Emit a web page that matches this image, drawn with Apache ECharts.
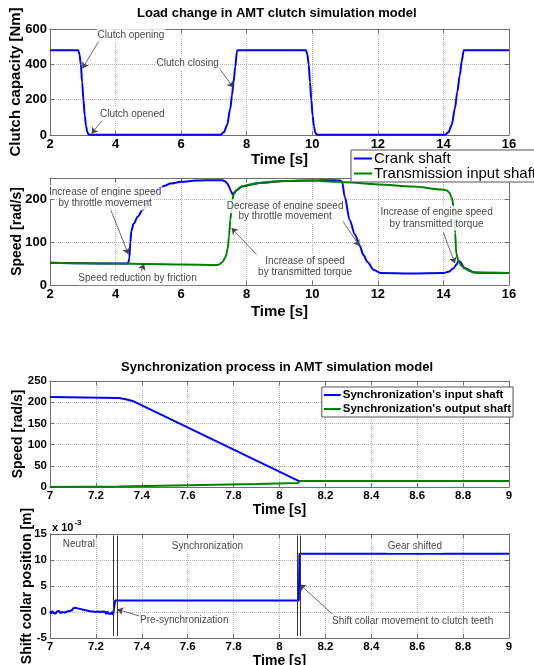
<!DOCTYPE html>
<html>
<head>
<meta charset="utf-8">
<script src="https://cdn.jsdelivr.net/npm/echarts@6/dist/echarts.min.js"></script>
<style>
  html, body { margin: 0; padding: 0; background: #fff; }
  #chart { width: 534px; height: 665px; }
</style>
</head>
<body>
<div id="chart"></div>
<script>
// top panel: clutch capacity [Nm]
var clutchTime = [2, 2.86, 2.9, 2.94, 2.98, 3.02, 3.06, 3.1, 3.14, 3.18, 3.22,
                  7.2, 7.3, 7.4, 7.5, 7.55, 7.6, 7.65, 7.7, 7.72,
                  9.81, 9.85, 9.89, 9.93, 9.97, 10.01, 10.05, 10.09, 10.13, 10.17,
                  14.05, 14.15, 14.25, 14.35, 14.42, 14.5, 14.56, 14.62, 16];
var clutchCap  = [480, 480, 455, 400, 300, 200, 110, 50, 15, 4, 2,
                  2, 15, 55, 150, 225, 300, 385, 470, 480,
                  480, 455, 400, 300, 200, 110, 50, 15, 4, 2,
                  2, 15, 55, 150, 240, 340, 420, 480, 480];

// second panel: speeds [rad/s]
var crankTime  = [2, 3, 4, 4.38, 4.42, 4.45, 4.48, 4.55, 4.68, 4.82,
                  5.0, 5.15, 5.32, 5.5, 5.67, 6.0, 6.46, 7.0, 7.26, 7.35,
                  7.41, 7.46, 7.5, 7.57, 7.7, 7.85, 8.45, 9.14, 10, 10.5,
                  10.85, 10.91, 10.99, 11.14, 11.3, 11.44, 11.56, 11.68, 11.88, 12.08,
                  13, 14.0, 14.16, 14.31, 14.4, 14.46, 14.5, 14.65, 14.95, 16];
var crankSpeed = [52, 51, 50, 50, 62, 100, 126, 143, 160, 175,
                  196, 212, 226, 232, 237, 241, 244, 245, 245, 242,
                  237, 230, 222, 212, 222, 230, 239, 243, 244, 245,
                  244, 241, 206, 152, 118, 93, 70, 54, 35, 28,
                  27, 28, 31, 39, 48, 56, 55, 39, 29, 28];
var transTime  = [2, 3, 4, 5, 6, 7.1, 7.16, 7.26, 7.36, 7.42,
                  7.46, 7.5, 7.56, 7.6, 7.7, 7.85, 8.1, 8.45, 9.14, 10,
                  10.79, 11, 12, 13.07, 13.96, 14.1, 14.18, 14.26, 14.31, 14.36,
                  14.39, 14.46, 14.55, 14.65, 14.8, 14.95, 15.2, 16];
var transSpeed = [52, 51, 50, 49, 48, 47, 48, 54, 66, 85,
                  113, 152, 198, 212, 222, 230, 235, 239, 243, 244,
                  241, 240, 235, 230, 223, 221, 216, 202, 183, 121,
                  74, 55, 45, 39, 33, 29, 28, 28];

// third panel: synchronizer speeds [rad/s]
var syncInTime   = [7, 7.3, 7.33, 7.36, 8.085, 9];
var syncInSpeed  = [212, 210, 207, 203, 14, 14];
var syncOutTime  = [7, 7.3, 7.6, 7.9, 8.08, 8.09, 9];
var syncOutSpeed = [0, 1, 4, 7, 9.5, 14, 14];

// fourth panel: shift collar position [x 10^-3 m]
var collarTime = [7.000, 7.005, 7.010, 7.015, 7.020, 7.025, 7.030, 7.035, 7.040, 7.045,
                  7.050, 7.055, 7.060, 7.065, 7.070, 7.075, 7.080, 7.085, 7.090, 7.095,
                  7.100, 7.105, 7.110, 7.115, 7.120, 7.125, 7.130, 7.135, 7.140, 7.145,
                  7.150, 7.155, 7.160, 7.165, 7.170, 7.175, 7.180, 7.185, 7.190, 7.195,
                  7.200, 7.205, 7.210, 7.215, 7.220, 7.225, 7.230, 7.235, 7.240, 7.245,
                  7.250, 7.255, 7.260, 7.265, 7.270, 7.275, 7.280,
                  7.284, 8.084, 8.087, 9];
var collarPos  = [0.1, -0.3, 0.2, -0.2, 0.0, -0.3, 0.1, -0.1, 0.2, -0.2,
                  0.1, 0.0, 0.3, -0.1, 0.2, 0.1, 0.4, 0.2, 0.5, 0.3,
                  0.7, 0.5, 0.8, 0.5, 0.7, 0.4, 0.6, 0.3, 0.5, 0.2,
                  0.4, 0.1, 0.3, 0.0, 0.2, -0.1, 0.1, -0.2, 0.1, -0.1,
                  0.0, -0.3, 0.1, -0.2, 0.0, -0.3, 0.1, -0.2, 0.0, -0.4,
                  0.1, -0.3, -0.1, -0.4, 0.0, -0.5, -0.2,
                  2.2, 2.2, 11.2, 11.2];
var syncMarks = [7.274, 7.291, 8.078, 8.089];

// annotations [x, y, text] and arrows [x1, y1, x2, y2] in data units
var clutchNotes  = [[4.47, 566, 'Clutch opening'], [4.51, 117, 'Clutch opened'], [6.2, 405, 'Clutch closing']];
var clutchArrows = [[3.52, 541, 2.99, 377], [3.58, 80, 3.27, 8], [7.13, 386, 7.59, 269]];
var speedNotes = [
  [3.68, 217, 'Increase of engine speed'], [3.68, 191, 'by throttle movement'],
  [4.67, 16, 'Speed reduction by friction'],
  [9.17, 184, 'Decrease of engine speed'], [9.17, 161, 'by throttle movement'],
  [9.78, 55, 'Increase of speed'], [9.78, 30, 'by transmitted torque'],
  [13.79, 169, 'Increase of engine speed'], [13.79, 143, 'by transmitted torque']
];
var speedArrows = [[3.83, 180, 4.39, 72], [4.75, 27, 4.87, 49], [10.94, 148, 11.44, 91],
                   [8.3, 71, 7.54, 133], [14.0, 122, 14.35, 51]];
var collarNotes = [
  [7.126, 13.0, 'Neutral'], [7.686, 12.7, 'Synchronization'], [8.59, 12.7, 'Gear shifted'],
  [7.585, -1.6, 'Pre-synchronization'], [8.58, -1.7, 'Shift collar movement to clutch teeth']
];
var collarArrows = [[7.407, -1.0, 7.293, 0.5], [8.25, -1.2, 8.089, 5.3]];

var FONT = "'Liberation Sans', Arial, Helvetica, sans-serif";
var BLUE = '#0000ff', GREEN = '#008000', FRAME = '#6e6e6e';

function zip(xs, ys) {
  return xs.map(function (x, i) { return [x, ys[i]]; });
}

var xAxes = [], yAxes = [];
function addAxes(gi, xr, yr, opt) {
  var line = { show: true, onZero: false, lineStyle: { color: FRAME, width: 1 } };
  var tick = { show: true, inside: true, length: 4, lineStyle: { color: FRAME } };
  var grid = { show: true, lineStyle: { color: '#b4b4b4', type: 'dotted', width: 1 } };
  var lbl = { color: '#000', fontWeight: 'bold', fontSize: opt.fs, fontFamily: FONT, margin: 3 };
  if (opt.fmt) lbl.formatter = opt.fmt;
  var nameStyle = { color: '#000', fontWeight: 'bold', fontSize: opt.nfs, fontFamily: FONT };
  xAxes.push({ type: 'value', gridIndex: gi, position: 'bottom', min: xr[0], max: xr[1], interval: xr[2],
    axisLine: line, axisTick: tick, splitLine: grid, axisLabel: lbl,
    name: 'Time [s]', nameLocation: 'middle', nameGap: opt.xGap, nameTextStyle: nameStyle });
  xAxes.push({ type: 'value', gridIndex: gi, position: 'top', min: xr[0], max: xr[1], interval: xr[2],
    axisLine: line, axisTick: tick, splitLine: { show: false }, axisLabel: { show: false } });
  yAxes.push({ type: 'value', gridIndex: gi, position: 'left', min: yr[0], max: yr[1], interval: yr[2],
    axisLine: line, axisTick: tick, splitLine: grid,
    axisLabel: { color: '#000', fontWeight: 'bold', fontSize: opt.fs, fontFamily: FONT, margin: 3,
      showMaxLabel: opt.maxLabel !== false },
    name: opt.yName, nameLocation: 'middle', nameGap: opt.yGap, nameMoveOverlap: false,
    nameTextStyle: { color: '#000', fontWeight: 'bold', fontSize: opt.ynfs, fontFamily: FONT } });
  yAxes.push({ type: 'value', gridIndex: gi, position: 'right', min: yr[0], max: yr[1], interval: yr[2],
    axisLine: line, axisTick: tick, splitLine: { show: false }, axisLabel: { show: false } });
}

addAxes(0, [2, 16, 2], [0, 600, 200], { fs: 13, nfs: 15, xGap: 17, yName: 'Clutch capacity [Nm]', ynfs: 15, yGap: 27 });
addAxes(1, [2, 16, 2], [0, 250, 100], { fs: 13, nfs: 15, xGap: 19, yName: 'Speed [rad/s]', ynfs: 14, yGap: 26, maxLabel: false });
var dec = function (v) { return String(+v.toFixed(1)); };
addAxes(2, [7, 9, 0.2], [0, 250, 50], { fs: 11.5, nfs: 14, xGap: 14, fmt: dec, yName: 'Speed [rad/s]', ynfs: 14, yGap: 25 });
addAxes(3, [7, 9, 0.2], [-5, 15, 5], { fs: 11.5, nfs: 14, xGap: 13, fmt: dec, yName: 'Shift collar position [m]', ynfs: 14, yGap: 16 });

function lineSeries(gi, name, color, xs, ys, smooth) {
  return { type: 'line', name: name, xAxisIndex: 2 * gi, yAxisIndex: 2 * gi, data: zip(xs, ys),
    showSymbol: false, symbol: 'none', smooth: smooth ? 0.3 : false, smoothMonotone: 'x',
    lineStyle: { color: color, width: 2 }, itemStyle: { color: color }, silent: true, z: 3 };
}

function noteSeries(gi, notes, arrows) {
  return { type: 'scatter', xAxisIndex: 2 * gi, yAxisIndex: 2 * gi, z: 10, silent: true,
    symbolSize: 1, itemStyle: { color: 'rgba(0,0,0,0)' },
    label: { show: true, position: 'inside', formatter: '{b}', color: '#111', fontSize: 10,
      fontFamily: FONT, backgroundColor: '#fff', padding: [2, 1] },
    data: notes.map(function (n) { return { name: n[2], value: [n[0], n[1]] }; }),
    markLine: { silent: true, symbol: ['none', 'arrow'], symbolSize: 6, label: { show: false },
      lineStyle: { color: '#444', width: 0.8, type: 'solid' },
      data: arrows.map(function (a) { return [{ coord: [a[0], a[1]] }, { coord: [a[2], a[3]] }]; }) } };
}

var series = [
  lineSeries(0, 'Clutch capacity', BLUE, clutchTime, clutchCap, true),
  lineSeries(1, 'Crank shaft', BLUE, crankTime, crankSpeed, true),
  lineSeries(1, 'Transmission input shaft', GREEN, transTime, transSpeed, true),
  lineSeries(2, "Synchronization's input shaft", BLUE, syncInTime, syncInSpeed, false),
  lineSeries(2, "Synchronization's output shaft", GREEN, syncOutTime, syncOutSpeed, false),
  lineSeries(3, 'Shift collar', BLUE, collarTime, collarPos, false),
  noteSeries(0, clutchNotes, clutchArrows),
  noteSeries(1, speedNotes, speedArrows),
  noteSeries(3, collarNotes, collarArrows),
  { type: 'scatter', xAxisIndex: 6, yAxisIndex: 6, data: [], silent: true, z: 4,
    markLine: { silent: true, symbol: 'none', label: { show: false },
      lineStyle: { color: '#333', width: 1, type: 'solid' },
      data: syncMarks.map(function (x) { return [{ coord: [x, -4.6] }, { coord: [x, 14.7] }]; }) } }
];

var chart = echarts.init(document.getElementById('chart'), null, { renderer: 'canvas' });
chart.setOption({
  animation: false,
  backgroundColor: '#fff',
  textStyle: { fontFamily: FONT },
  grid: [
    { left: 50, right: 25, top: 29, height: 106, outerBoundsMode: 'none' },
    { left: 50, right: 25, top: 178, height: 107, outerBoundsMode: 'none' },
    { left: 50, right: 25, top: 381, height: 106, outerBoundsMode: 'none' },
    { left: 50, right: 25, top: 534, height: 104, outerBoundsMode: 'none' }
  ],
  xAxis: xAxes,
  yAxis: yAxes,
  legend: [
    { data: ['Crank shaft', 'Transmission input shaft'], orient: 'vertical', left: 351, top: 150,
      icon: 'rect', itemWidth: 18, itemHeight: 2, itemGap: 0, padding: [1, 3],
      backgroundColor: '#fff', borderColor: '#555', borderWidth: 1, selectedMode: false,
      textStyle: { fontSize: 15, color: '#000', fontFamily: FONT, padding: [0, 0, 0, -3] } },
    { data: ["Synchronization's input shaft", "Synchronization's output shaft"], orient: 'vertical', right: 21, top: 387,
      icon: 'rect', itemWidth: 17, itemHeight: 2, itemGap: 2, padding: [2, 2, 2, 2],
      backgroundColor: '#fff', borderColor: '#555', borderWidth: 1, selectedMode: false,
      textStyle: { fontSize: 11.5, fontWeight: 'bold', color: '#000', fontFamily: FONT, padding: [0, 0, 0, -3] } }
  ],
  graphic: [
    { type: 'text', left: 278 - 141, top: 7, style: { text: 'Load change in AMT clutch simulation model',
      font: 'bold 13px ' + FONT, fill: '#000' } },
    { type: 'text', left: 280 - 159, top: 361, style: { text: 'Synchronization process in AMT simulation model',
      font: 'bold 13px ' + FONT, fill: '#000' } },
    { type: 'text', left: 52, top: 519, style: { text: '{a|x 10}{b|-3}', rich: {
      a: { font: 'bold 11px ' + FONT, fill: '#000', verticalAlign: 'bottom' },
      b: { font: 'bold 8px ' + FONT, fill: '#000', verticalAlign: 'top', padding: [0, 0, 6, 1] } } } }
  ],
  series: series
});
</script>
</body>
</html>
